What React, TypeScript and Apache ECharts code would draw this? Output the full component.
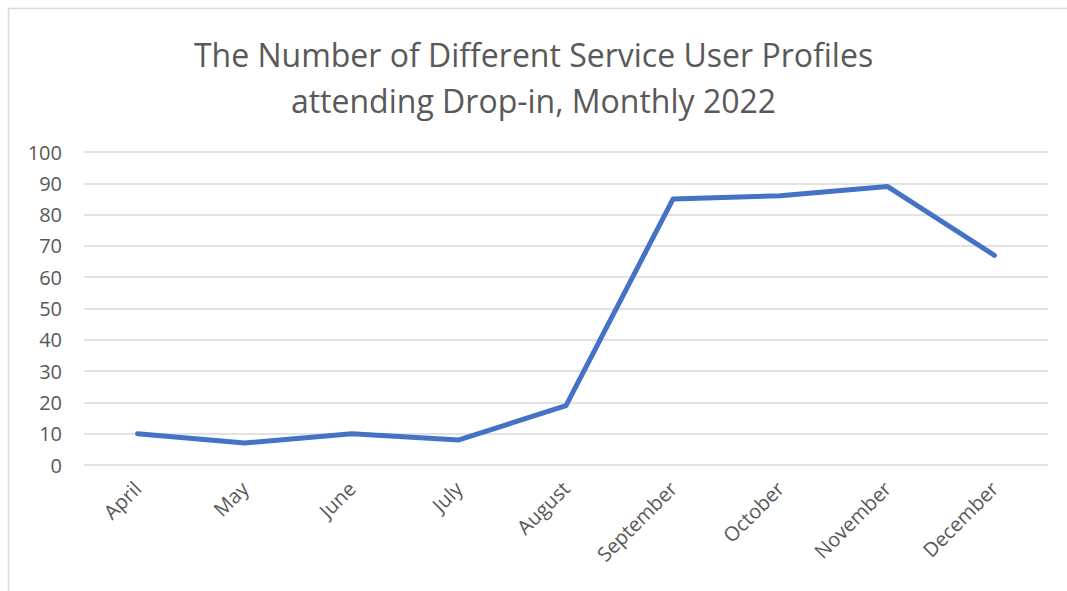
import React, { useEffect, useRef } from "react";
import * as echarts from "echarts";

const titleText = "The Number of Different Service User Profiles\nattending Drop-in, Monthly 2022";
const months = ["April", "May", "June", "July", "August", "September", "October", "November", "December"];
const profiles = [10, 7, 10, 8, 19, 85, 86, 89, 67];

export default function App() {
  const ref = useRef<HTMLDivElement>(null);
  useEffect(() => {
    const chart = echarts.init(ref.current!, null, { renderer: "svg" });
    const font = "'Open Sans', sans-serif";
    chart.setOption({
      animation: false,
      backgroundColor: "#ffffff",
      title: {
        text: titleText,
        left: "center",
        top: 26,
        textStyle: {
          fontFamily: font,
          fontSize: 32,
          fontWeight: "normal",
          color: "#595959",
          lineHeight: 46,
        },
      },
      graphic: [
        {
          type: "rect",
          shape: { x: 8.5, y: 8.5, width: 1200, height: 700 },
          style: { fill: "none", stroke: "#d9d9d9", lineWidth: 1.5 },
          silent: true,
        },
      ],
      grid: { left: 84, right: 19, top: 152, bottom: 126 },
      xAxis: {
        type: "category",
        data: months,
        boundaryGap: true,
        axisLine: { show: false },
        axisTick: { show: false },
        axisLabel: {
          rotate: 45,
          margin: 20,
          fontFamily: font,
          fontSize: 20,
          color: "#595959",
          interval: 0,
        },
      },
      yAxis: {
        type: "value",
        min: 0,
        max: 100,
        interval: 10,
        axisLine: { show: false },
        axisTick: { show: false },
        axisLabel: { fontFamily: font, fontSize: 20, color: "#595959", margin: 22 },
        splitLine: { lineStyle: { color: "#d9d9d9", width: 1.5 } },
      },
      series: [
        {
          type: "line",
          data: profiles,
          symbol: "none",
          lineStyle: { color: "#4472C4", width: 5, cap: "round", join: "round" },
        },
      ],
    });
    return () => chart.dispose();
  }, []);
  return (
    <div
      ref={ref}
      style={{ position: "fixed", left: 0, top: 0, width: 1067, height: 591 }}
    />
  );
}
